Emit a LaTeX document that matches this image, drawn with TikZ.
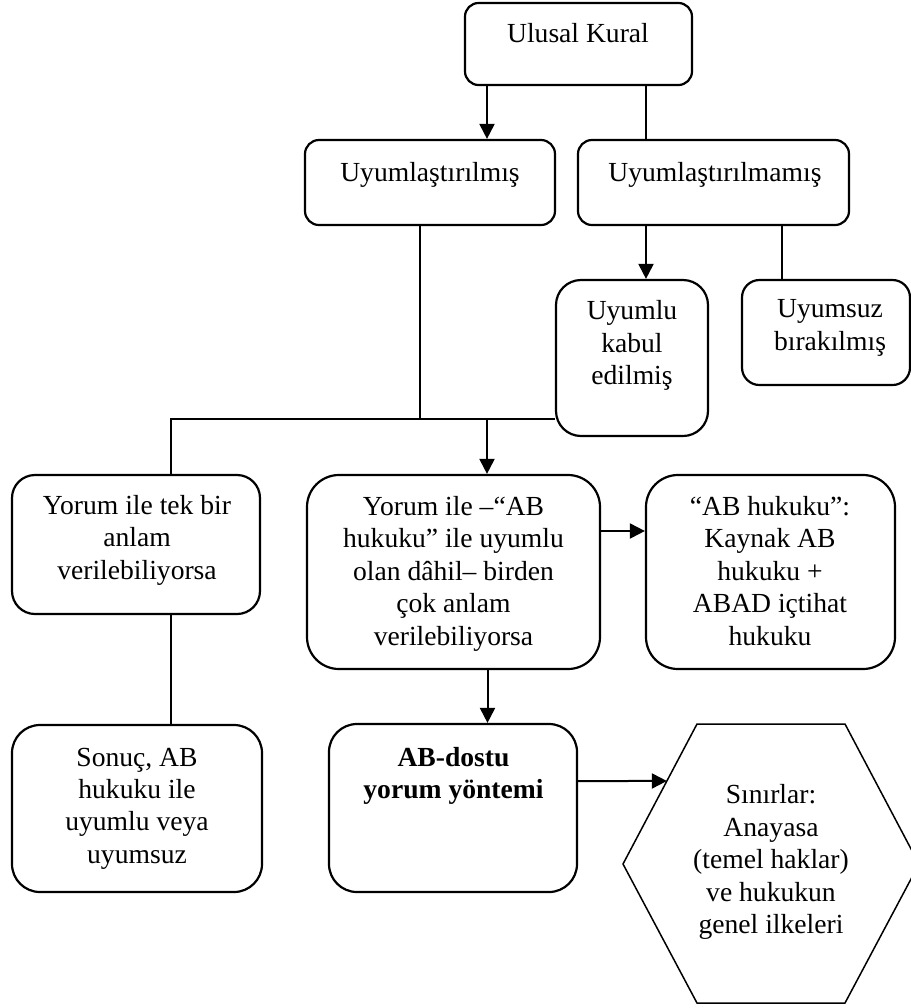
\documentclass[tikz,border=0pt]{standalone}
\usepackage{fontspec}
\setmainfont{Liberation Serif}
\usetikzlibrary{arrows.meta,calc}
\newcommand{\metin}{\fontsize{13.8}{16.2}\selectfont}
\tikzset{kutu/.style={draw,line width=1.1pt,rounded corners=#1,inner sep=0pt},
yazi/.style={font=\metin,align=center,inner sep=0pt,execute at begin node=\strut,execute at end node=\strut},
ok/.style={-{Triangle[length=7.5pt,width=7.5pt]},line width=1pt},
cizgi/.style={line width=.75pt}}
\begin{document}
\begin{tikzpicture}[x=.5pt,y=-.5pt]
\clip (0,0) rectangle (911,1008);
\node[kutu=6.8pt,minimum width=113.5pt,minimum height=41pt] (ulusal) at (578.5,44) {};
\node[kutu=7pt,minimum width=125pt,minimum height=42.5pt] (uyum) at (430,182.5) {};
\node[kutu=7pt,minimum width=135.5pt,minimum height=42.5pt] (uyumsuzl) at (713.5,182.5) {};
\node[kutu=12.5pt,minimum width=76pt,minimum height=78pt] (kabul) at (632,358) {};
\node[kutu=8.75pt,minimum width=84pt,minimum height=52.5pt] (birakil) at (826,332.5) {};
\node[kutu=11.5pt,minimum width=124pt,minimum height=69.5pt] (tek) at (136,544.5) {};
\node[kutu=16pt,minimum width=146.5pt,minimum height=97pt] (cok) at (453.5,572) {};
\node[kutu=16pt,minimum width=124.5pt,minimum height=97pt] (abhukuk) at (770.5,572) {};
\node[kutu=14pt,minimum width=125pt,minimum height=83.5pt] (sonuc) at (137,808.5) {};
\node[kutu=14pt,minimum width=124pt,minimum height=84pt] (dostu) at (453,808) {};
\coordinate (hL) at (623,864);
\coordinate (hTL) at (697,724);
\coordinate (hTR) at (845,724);
\coordinate (hR) at (919,864);
\coordinate (hBR) at (845,1003);
\coordinate (hBL) at (697,1003);
\draw[cizgi] (hL)--(hTL)--(hTR)--(hR)--(hBR)--(hBL)--cycle;
\node[yazi] (ulusal-y) at (578,36.5) {Ulusal Kural};
\node[yazi] (uyum-y) at (430,175.5) {Uyumlaştırılmış};
\node[yazi] (uyumsuzl-y) at (715,175.5) {Uyumlaştırılmamış};
\node[yazi] (kabul-y) at (632,347.5) {Uyumlu\\kabul\\edilmiş};
\node[yazi] (birakil-y) at (830,330) {Uyumsuz\\bırakılmış};
\node[yazi] (tek-y) at (137,542) {Yorum ile tek bir\\anlam\\verilebiliyorsa};
\node[yazi] (cok-y) at (453.5,575.5) {Yorum ile –“AB\\hukuku” ile uyumlu\\olan dâhil– birden\\çok anlam\\verilebiliyorsa};
\node[yazi] (abhukuk-y) at (770,575.5) {“AB hukuku”:\\Kaynak AB\\hukuku +\\ABAD içtihat\\hukuku};
\node[yazi] (sonuc-y) at (137,810.5) {Sonuç, AB\\hukuku ile\\uyumlu veya\\uyumsuz};
\node[yazi,font=\metin\bfseries] (dostu-y) at (453.5,778) {AB-dostu\\yorum yöntemi};
\node[yazi] (sinir-y) at (771,864) {Sınırlar:\\Anayasa\\(temel haklar)\\ve hukukun\\genel ilkeleri};
\coordinate (kavsak) at (420,419);
\draw[ok] ([xshift=-45.75pt]ulusal.south) -- ([xshift=-45.75pt]ulusal.south |- uyum.north);
\draw[cizgi] ([xshift=33.75pt]ulusal.south) -- ([xshift=33.75pt]ulusal.south |- uyumsuzl.north);
\draw[ok] ([xshift=-33.75pt]uyumsuzl.south) -- ([xshift=-33.75pt]uyumsuzl.south |- kabul.north);
\draw[cizgi] ([xshift=34.25pt]uyumsuzl.south) -- ([xshift=34.25pt]uyumsuzl.south |- birakil.north);
\draw[cizgi] ([xshift=-5pt]uyum.south) -- (kavsak);
\draw[cizgi] (kabul.west |- kavsak) -- ([xshift=17.5pt]tek.north |- kavsak) -- ([xshift=17.5pt]tek.north);
\draw[ok] ([xshift=16.75pt]cok.north |- kavsak) -- ([xshift=16.75pt]cok.north);
\draw[ok] ([yshift=20.5pt]cok.east) -- ([yshift=20.5pt]cok.east -| abhukuk.west);
\draw[cizgi] ([xshift=17.5pt]tek.south) -- ([xshift=17.5pt]tek.south |- sonuc.north);
\draw[ok] ([xshift=17pt]cok.south) -- ([xshift=17pt]cok.south |- dostu.north);
\draw[ok] ([yshift=13.5pt]dostu.east) -- ($(hL)!0.593!(hTL)$);
\end{tikzpicture}
\end{document}
